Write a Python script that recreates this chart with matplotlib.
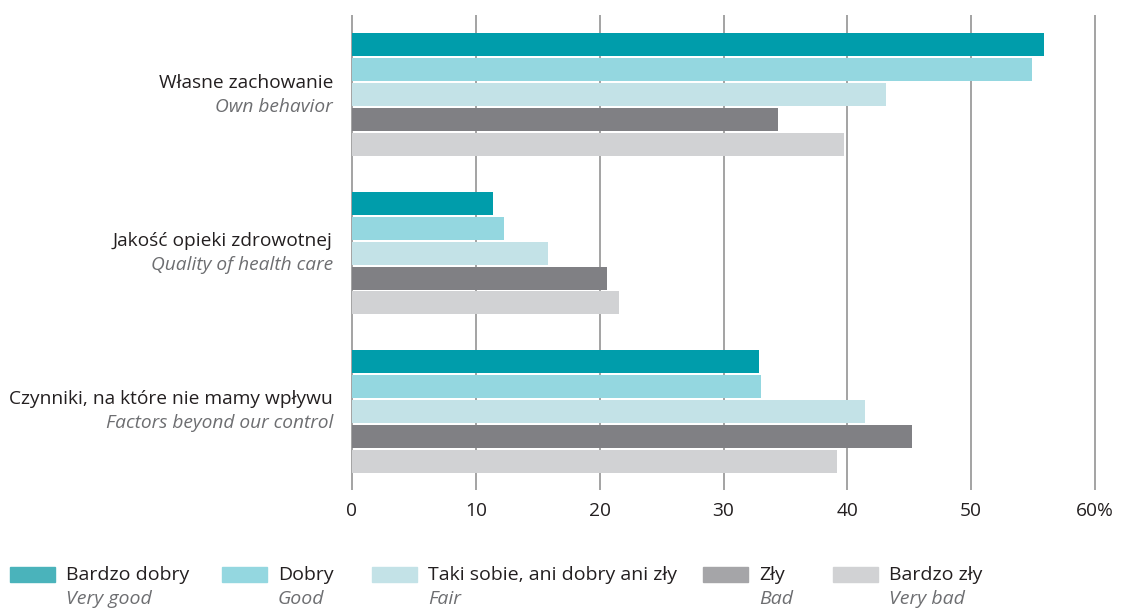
import matplotlib.pyplot as plt
from matplotlib.patches import Rectangle
import numpy as np

plt.rcParams['font.family'] = ['Open Sans', 'DejaVu Sans']

# data
groups_pl = ['Własne zachowanie', 'Jakość opieki zdrowotnej', 'Czynniki, na które nie mamy wpływu']
groups_en = ['Own behavior', 'Quality of health care', 'Factors beyond our control']
series_pl = ['Bardzo dobry', 'Dobry', 'Taki sobie, ani dobry ani zły', 'Zły', 'Bardzo zły']
series_en = ['Very good', 'Good', 'Fair', 'Bad', 'Very bad']
very_good = [55.9, 11.4, 32.9]
good = [54.9, 12.3, 33.0]
fair = [43.1, 15.8, 41.4]
bad = [34.4, 20.6, 45.2]
very_bad = [39.7, 21.6, 39.2]
xticks = [0, 10, 20, 30, 40, 50, 60]
xtick_labels = ['0', '10', '20', '30', '40', '50', '60%']

values = [very_good, good, fair, bad, very_bad]
bar_colors = ['#009dab', '#94d7e0', '#c3e2e7', '#808084', '#d1d2d4']
legend_colors = ['#4ab3bb', '#94d7e0', '#c3e2e7', '#a5a5a8', '#d1d2d4']
dark = '#231f20'
grey_txt = '#6d6e71'

fig = plt.figure(figsize=(11.21, 6.09), dpi=100)
W, H = 1121, 609
# axes in pixel space: x 352..1095, y 15..490
ax = fig.add_axes([350.1 / W, 1 - 490 / H, 746.8 / W, 475 / H])

group_start = 1.18
group_step = 6.34
for j, vals in enumerate(values):
    ys = [group_start + group_step * i + j for i in range(len(groups_pl))]
    ax.barh(ys, vals, height=0.92, color=bar_colors[j], zorder=2)

ax.set_xlim(-0.15, 60.15)
ax.set_ylim(19, 0)
ax.set_xticks(xticks)
ax.set_xticklabels(xtick_labels, fontsize=13.8, color=dark)
ax.tick_params(axis='x', length=0, pad=9)
ax.set_yticks([])
ax.set_axisbelow(True)
ax.grid(axis='x', color='#9c9c9c', linewidth=1.3, zorder=0)
for s in ax.spines.values():
    s.set_visible(False)

# category labels
for i in range(len(groups_pl)):
    yc = group_start + group_step * i + 2
    ax.text(-0.023, yc - 0.48, groups_pl[i], transform=ax.get_yaxis_transform(),
            ha='right', va='center', fontsize=13.8, color=dark)
    ax.text(-0.023, yc + 0.48, groups_en[i], transform=ax.get_yaxis_transform(),
            ha='right', va='center', fontsize=13.8, color=grey_txt, style='italic')

# legend drawn by hand
patch_x = [10, 222, 372, 703, 833]
patch_w = 45
for j in range(len(series_pl)):
    x0 = patch_x[j]
    fig.patches.append(Rectangle((x0 / W, 1 - 582 / H), patch_w / W, 15 / H,
                                 transform=fig.transFigure, color=legend_colors[j]))
    fig.text((x0 + patch_w + 11) / W, 1 - 575 / H, series_pl[j], ha='left', va='center',
             fontsize=14, color=dark)
    fig.text((x0 + patch_w + 11) / W, 1 - 599 / H, series_en[j], ha='left', va='center',
             fontsize=14, color=grey_txt, style='italic')

fig.savefig('out.png', dpi=100)
